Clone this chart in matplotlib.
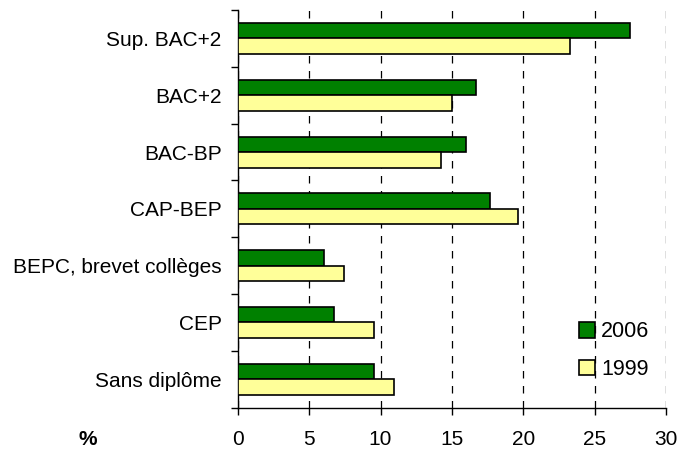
import numpy as np
import matplotlib
matplotlib.use("Agg")
import matplotlib.pyplot as plt
from matplotlib.patches import Patch

plt.rcParams['font.family'] = ['Liberation Sans', 'DejaVu Sans']

# Niveaux de diplome, du haut vers le bas
categories = ["Sup. BAC+2", "BAC+2", "BAC-BP", "CAP-BEP",
              "BEPC, brevet collèges", "CEP", "Sans diplôme"]
values_2006 = [27.5, 16.7, 16.0, 17.7, 6.05, 6.75, 9.55]
values_1999 = [23.3, 15.0, 14.25, 19.6, 7.45, 9.55, 10.95]
xticks = [0, 5, 10, 15, 20, 25, 30]

GREEN = "#008000"
YELLOW = "#FFFF99"
FS = 15

fig = plt.figure(figsize=(6.85, 4.53), dpi=100)
ax = fig.add_axes([0.347, 0.100, 0.6255, 0.878])

n = len(categories)
pos = np.arange(n)[::-1]          # first category at top
h = 0.273

ax.barh(pos + h / 2, values_2006, height=h, color=GREEN,
        edgecolor="black", linewidth=1.2, zorder=3)
ax.barh(pos - h / 2, values_1999, height=h, color=YELLOW,
        edgecolor="black", linewidth=1.2, zorder=3)

ax.set_xlim(0, 30)
ax.set_ylim(-0.5, n - 0.5)
ax.set_xticks(xticks)
ax.set_xticklabels([str(t) for t in xticks], fontsize=FS)
ax.set_yticks(pos)
ax.set_yticklabels(categories, fontsize=FS)
ax.set_yticks(np.arange(n + 1) - 0.5, minor=True)

ax.tick_params(axis="y", which="major", length=0, pad=11.5)
ax.tick_params(axis="y", which="minor", length=5, width=1, direction="out")
ax.tick_params(axis="x", length=5, width=1, direction="out", pad=11)

ax.grid(axis="x", linestyle=(0, (6, 6)), color="black", linewidth=0.9, zorder=0)
ax.set_axisbelow(True)

for side in ("top", "right"):
    ax.spines[side].set_visible(False)
for side in ("left", "bottom"):
    ax.spines[side].set_linewidth(1.0)
    ax.spines[side].set_color("black")

handles = [Patch(facecolor=GREEN, edgecolor="black", linewidth=1.2, label="2006"),
           Patch(facecolor=YELLOW, edgecolor="black", linewidth=1.2, label="1999")]
ax.legend(handles=handles, loc="lower left", bbox_to_anchor=(0.772, 0.042),
          frameon=False, fontsize=15.5, handlelength=0.72, handleheight=0.72,
          handletextpad=0.3, labelspacing=0.78, borderpad=0)

fig.text(0.128, 0.018, "%", fontsize=FS, fontweight="bold", ha="center")

fig.savefig("out.png", dpi=100)
